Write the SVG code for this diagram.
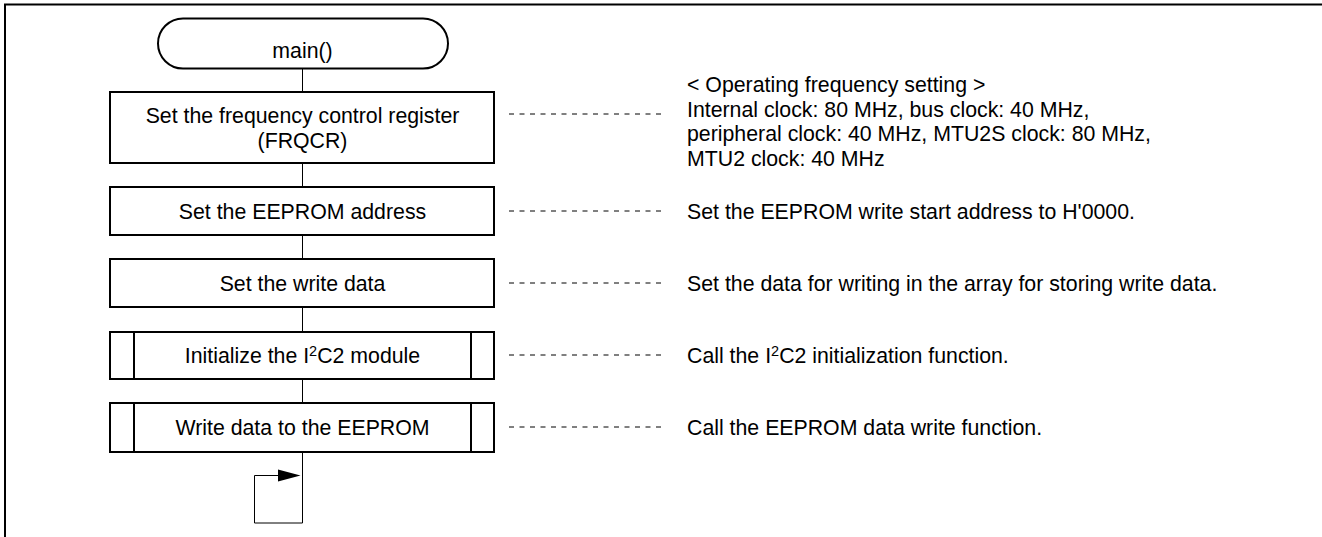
<svg xmlns="http://www.w3.org/2000/svg" width="1322" height="537" viewBox="0 0 1322 537">
  <style>
    .box { fill: #fff; stroke: #000; stroke-width: 2; }
    .bar { fill: none; stroke: #000; stroke-width: 2; }
    .line { fill: none; stroke: #000; stroke-width: 1; }
    .dash { fill: none; stroke: #000; stroke-width: 1; stroke-dasharray: 5 5.5; }
    .head { fill: #000; stroke: none; }
    text { font-family: "Liberation Sans", Arial, sans-serif; font-size: 21.3px; fill: #000; }
    .c { text-anchor: middle; }
  </style>

  <rect width="1322" height="537" fill="#fff"/>

  <!-- outer frame (top and left edges) -->
  <path d="M5,537 V4.5 H1322" fill="none" stroke="#000" stroke-width="2"/>

  <!-- connectors -->
  <g id="connectors">
    <path class="line" d="M302.5,69 V92"/>
    <path class="line" d="M302.5,163 V187"/>
    <path class="line" d="M302.5,235 V259"/>
    <path class="line" d="M302.5,307 V332"/>
    <path class="line" d="M302.5,379 V403"/>
    <!-- endless loop -->
    <path class="line" d="M302.5,452 V523 H254.5 V475.5 H279"/>
    <path class="head" d="M278,469.5 L300.5,475.5 L278,481.5 Z"/>
    <!-- note leaders -->
    <path class="dash" d="M509,114 H663"/>
    <path class="dash" d="M509,211 H663"/>
    <path class="dash" d="M509,283 H663"/>
    <path class="dash" d="M509,355 H663"/>
    <path class="dash" d="M509,427 H663"/>
  </g>

  <g id="start">
    <rect class="box" x="158" y="18.5" width="290" height="50" rx="25" ry="25"/>
    <text class="c" x="302.5" y="58">main()</text>
  </g>

  <g id="set-frqcr">
    <rect class="box" x="110" y="92" width="384" height="71"/>
    <text class="c" x="302.5" y="123">Set the frequency control register</text>
    <text class="c" x="302.5" y="148">(FRQCR)</text>
  </g>

  <g id="set-address">
    <rect class="box" x="110" y="187" width="384" height="48"/>
    <text class="c" x="302.5" y="218.5">Set the EEPROM address</text>
  </g>

  <g id="set-data">
    <rect class="box" x="110" y="259" width="384" height="48"/>
    <text class="c" x="302.5" y="290.5">Set the write data</text>
  </g>

  <g id="init-i2c">
    <rect class="box" x="110" y="332" width="384" height="47"/>
    <path class="bar" d="M134,332 V379 M471,332 V379"/>
    <text class="c" x="302.5" y="363">Initialize the I<tspan font-size="14.5" dy="-7">2</tspan><tspan dy="7">C2 module</tspan></text>
  </g>

  <g id="write-eeprom">
    <rect class="box" x="110" y="403" width="384" height="49"/>
    <path class="bar" d="M134,403 V452 M471,403 V452"/>
    <text class="c" x="302.5" y="435">Write data to the EEPROM</text>
  </g>

  <g id="notes">
    <text x="687" y="92">&lt; Operating frequency setting &gt;</text>
    <text x="687" y="116.5">Internal clock: 80 MHz, bus clock: 40 MHz,</text>
    <text x="687" y="141">peripheral clock: 40 MHz, MTU2S clock: 80 MHz,</text>
    <text x="687" y="165.5">MTU2 clock: 40 MHz</text>
    <text x="687" y="219">Set the EEPROM write start address to H'0000.</text>
    <text x="687" y="291">Set the data for writing in the array for storing write data.</text>
    <text x="687" y="363">Call the I<tspan font-size="14.5" dy="-7">2</tspan><tspan dy="7">C2 initialization function.</tspan></text>
    <text x="687" y="435">Call the EEPROM data write function.</text>
  </g>
</svg>
